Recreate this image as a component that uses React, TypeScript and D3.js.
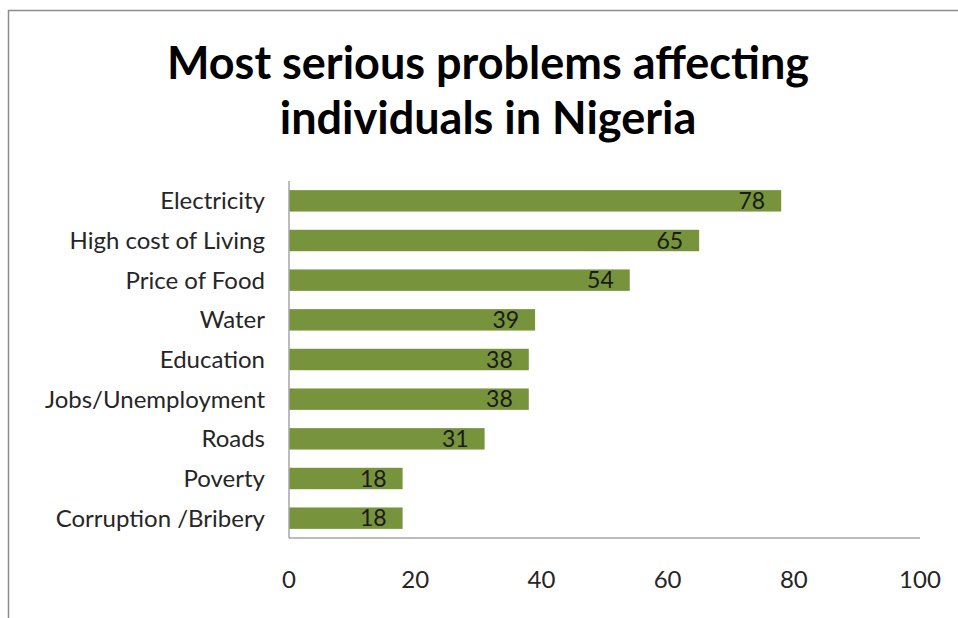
import React from "react";
import * as d3 from "d3";

const categories = [
  "Electricity",
  "High cost of Living",
  "Price of Food",
  "Water",
  "Education",
  "Jobs/Unemployment",
  "Roads",
  "Poverty",
  "Corruption /Bribery",
];
const values = [78, 65, 54, 39, 38, 38, 31, 18, 18];
const xTicks = [0, 20, 40, 60, 80, 100];
const titleLines = ["Most serious problems affecting", "individuals in Nigeria"];

const W = 958;
const H = 618;
const FONT = "Lato, 'Open Sans', sans-serif";

export default function App() {
  const x = d3.scaleLinear().domain([0, 100]).range([289, 920]);
  const y = d3.scaleBand<string>().domain(categories).range([181, 538]).paddingInner(0.46).paddingOuter(0.23);

  return (
    <div style={{ position: "absolute", left: 0, top: 0 }}>
      <svg width={W} height={H} style={{ display: "block", background: "#fff" }}>
        <rect x={8.5} y={10.5} width={W + 20} height={H + 20} fill="#fff" stroke="#8c8c8c" strokeWidth={1.5} />
        {titleLines.map((t, i) => (
          <text
            key={i}
            x={488}
            y={79 + i * 55}
            textAnchor="middle"
            fontFamily={FONT}
            fontWeight={700}
            fontSize={45}
            fill="#000"
          >
            {t}
          </text>
        ))}
        {categories.map((c, i) => (
          <g key={c}>
            <rect x={x(0)} y={y(c)!} width={x(values[i]) - x(0)} height={y.bandwidth()} fill="#77933C" />
            <text
              x={265}
              y={y(c)! + y.bandwidth() / 2}
              dy="0.35em"
              textAnchor="end"
              fontFamily={FONT}
              fontSize={24}
              fill="#262626"
            >
              {c}
            </text>
            <text
              x={x(values[i]) - 16}
              y={y(c)! + y.bandwidth() / 2}
              dy="0.36em"
              textAnchor="end"
              fontFamily={FONT}
              fontSize={23}
              fill="#1a1a1a"
            >
              {values[i]}
            </text>
          </g>
        ))}
        <line x1={289} x2={289} y1={181} y2={538} stroke="#a6a6a6" strokeWidth={1.5} />
        <line x1={289} x2={x(100)} y1={538} y2={538} stroke="#a6a6a6" strokeWidth={1.5} />
        {xTicks.map((t) => (
          <text
            key={t}
            x={x(t)}
            y={580}
            dy="0.35em"
            textAnchor="middle"
            fontFamily={FONT}
            fontSize={24}
            fill="#262626"
          >
            {t}
          </text>
        ))}
      </svg>
    </div>
  );
}
